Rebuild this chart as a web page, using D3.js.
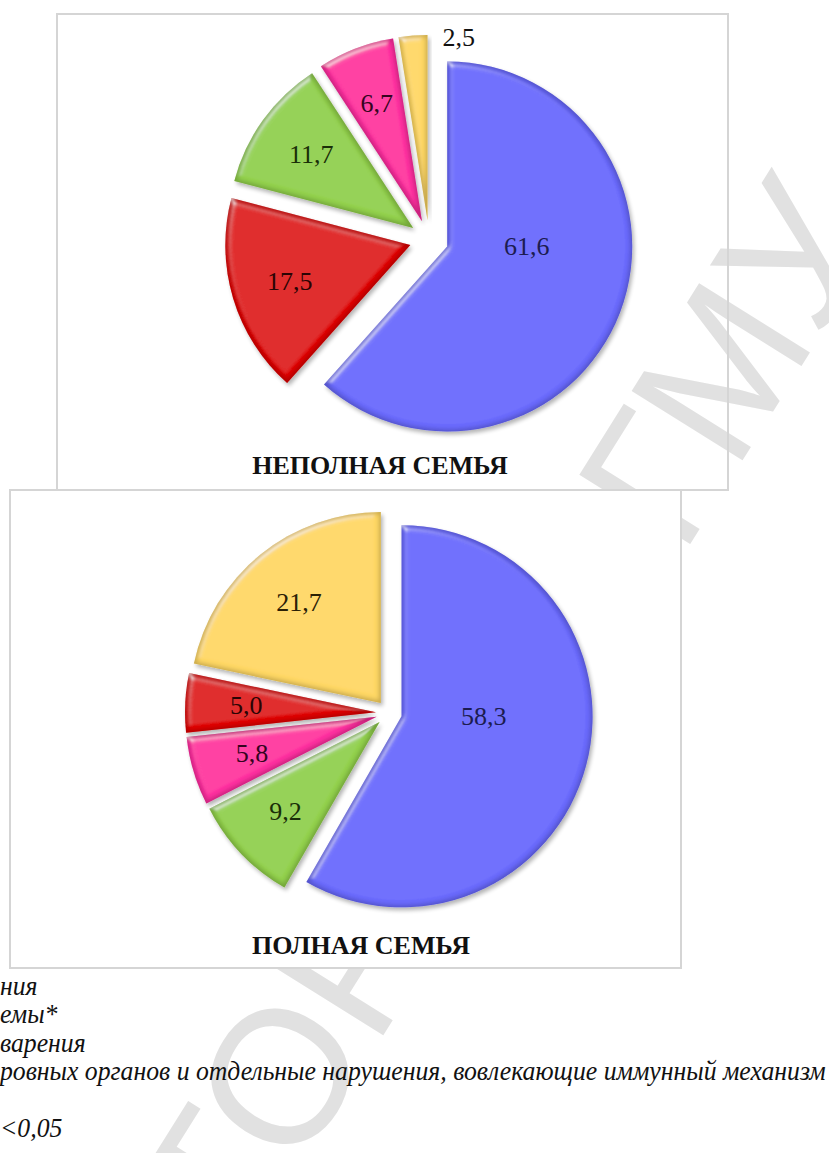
<!DOCTYPE html>
<html><head><meta charset="utf-8">
<script src="https://cdn.jsdelivr.net/npm/d3@7"></script>
<style>body{margin:0;background:#fff} svg{display:block}</style>
</head><body>
<script>
// ---- data ----
const sliceKeys1 = ["blue", "red", "green", "pink", "yellow"];
const values1 = [61.6, 17.5, 11.7, 6.7, 2.5];
const sliceKeys2 = ["blue", "green", "pink", "red", "yellow"];
const values2 = [58.3, 9.2, 5.8, 5.0, 21.7];
const chartTitles = ["НЕПОЛНАЯ СЕМЬЯ", "ПОЛНАЯ СЕМЬЯ"];
const noteLines = ["ния", "емы*", "варения", "ровных органов и отдельные нарушения, вовлекающие иммунный механизм", "", "<0,05"];
const watermarkText = "РЕПОЗИТОРИЙ ВГМУ";

const palette = {
  blue:   {base: "#6a6afd", text: "#1c1c50"},
  red:    {base: "#e00000", text: "#2a0404"},
  green:  {base: "#93d14e", text: "#1a2e08"},
  pink:   {base: "#ff30a0", text: "#35041f"},
  yellow: {base: "#ffd865", text: "#2a2005"}
};
const fmt = v => v.toFixed(1).replace(".", ",");

const W = 829, H = 1153;
const svg = d3.select("body").append("svg").attr("width", W).attr("height", H);

const defs = svg.append("defs");
const f = defs.append("filter").attr("id", "bevel").attr("x", "-10%").attr("y", "-10%").attr("width", "125%").attr("height", "125%");
f.append("feGaussianBlur").attr("in", "SourceAlpha").attr("stdDeviation", 2).attr("result", "sb");
f.append("feOffset").attr("in", "sb").attr("dx", 2).attr("dy", 3).attr("result", "so");
f.append("feComponentTransfer").attr("in", "so").attr("result", "shadow")
  .append("feFuncA").attr("type", "linear").attr("slope", 0.3);
f.append("feMorphology").attr("in", "SourceAlpha").attr("operator", "erode").attr("radius", 2).attr("result", "er");
f.append("feGaussianBlur").attr("in", "er").attr("stdDeviation", 2).attr("result", "erb");
f.append("feComposite").attr("in", "SourceAlpha").attr("in2", "erb").attr("operator", "out").attr("result", "rimMask");
f.append("feFlood").attr("flood-color", "#000").attr("flood-opacity", 0.4).attr("result", "dk");
f.append("feComposite").attr("in", "dk").attr("in2", "rimMask").attr("operator", "in").attr("result", "rim");
f.append("feGaussianBlur").attr("in", "SourceAlpha").attr("stdDeviation", 3).attr("result", "hb");
const spec = f.append("feSpecularLighting").attr("in", "hb").attr("surfaceScale", 2.5).attr("specularConstant", 0.45)
  .attr("specularExponent", 45).attr("lighting-color", "#ffffff").attr("result", "spec");
spec.append("feDistantLight").attr("azimuth", 235).attr("elevation", 50);
f.append("feComposite").attr("in", "spec").attr("in2", "SourceAlpha").attr("operator", "in").attr("result", "specIn");
const mg = f.append("feMerge");
mg.append("feMergeNode").attr("in", "shadow");
mg.append("feMergeNode").attr("in", "SourceGraphic");
mg.append("feMergeNode").attr("in", "rim");
mg.append("feMergeNode").attr("in", "specIn");

// watermark (light grey diagonal text, partly hidden by the lower chart)
svg.append("text").text(watermarkText)
  .attr("transform", "translate(882,237) rotate(-58)")
  .attr("text-anchor", "end")
  .attr("font-family", "Liberation Sans, Arial, sans-serif")
  .attr("font-size", 190)
  .attr("fill", "#e1e1e1");

function drawChart(keys, values, title, cfg) {
  const g = svg.append("g");
  g.append("rect").attr("x", cfg.fx).attr("y", cfg.fy).attr("width", cfg.fw).attr("height", cfg.fh)
    .attr("fill", cfg.fill).attr("stroke", "#d5d5d5").attr("stroke-width", 2);
  const data = keys.map((k, i) => ({key: k, value: values[i]}));
  const arcs = d3.pie().sort(null).value(d => d.value)(data);
  const arc = d3.arc().innerRadius(0).outerRadius(cfg.r);
  const sl = g.selectAll("g.slice").data(arcs).join("g").attr("class", "slice")
    .attr("transform", d => {
      const m = (d.startAngle + d.endAngle) / 2;
      return `translate(${cfg.cx + cfg.explode * Math.sin(m)},${cfg.cy - cfg.explode * Math.cos(m)})`;
    });
  sl.append("path").attr("d", arc).attr("fill", d => palette[d.data.key].base).attr("filter", "url(#bevel)");
  sl.append("text").text(d => fmt(d.data.value))
    .attr("font-family", "Liberation Serif, Times New Roman, serif")
    .attr("font-size", 26)
    .attr("dominant-baseline", "central")
    .attr("fill", d => d.data.value < 4 ? "#111" : palette[d.data.key].text)
    .each(function(d) {
      const span = d.endAngle - d.startAngle;
      const t = d3.select(this);
      if (d.data.value < 4) {
        t.attr("text-anchor", "start").attr("x", 15).attr("y", -cfg.r + 2);
      } else {
        let a, rr;
        if (span > Math.PI) { a = (d.startAngle + Math.PI) / 2; rr = 0.43 * cfg.r; }
        else { a = (d.startAngle + d.endAngle) / 2; rr = 0.68 * cfg.r; }
        t.attr("text-anchor", "middle").attr("x", rr * Math.sin(a)).attr("y", -rr * Math.cos(a));
      }
    });
  g.append("text").text(title)
    .attr("x", cfg.tx).attr("y", cfg.ty)
    .attr("text-anchor", "middle")
    .attr("font-family", "Liberation Serif, Times New Roman, serif")
    .attr("font-weight", "bold")
    .attr("font-size", 26)
    .attr("fill", "#111");
}

drawChart(sliceKeys1, values1, chartTitles[0],
  {fx: 57, fy: 14, fw: 671, fh: 476, fill: "none", cx: 429, cy: 239.5, r: 185, explode: 19.5, tx: 380, ty: 474});
drawChart(sliceKeys2, values2, chartTitles[1],
  {fx: 10, fy: 490, fw: 671, fh: 478, fill: "#fff", cx: 389, cy: 713, r: 191, explode: 13, tx: 361, ty: 954});

// notes (cropped legend text) – condensed italic serif
const noteSize = 28;
const notes = svg.append("g")
  .attr("font-family", "Liberation Serif, Times New Roman, serif")
  .attr("font-style", "italic")
  .attr("font-size", noteSize)
  .attr("fill", "#111");
const probe = notes.append("text").text(noteLines[3]);
const wLong = probe.node().getComputedTextLength();
probe.remove();
const sx = 826 / wLong;
notes.attr("transform", `scale(${sx},1)`);
notes.selectAll("text").data(noteLines).join("text")
  .attr("x", 0)
  .attr("y", (d, i) => 995 + i * 28.4)
  .text(d => d);
</script>
</body></html>
